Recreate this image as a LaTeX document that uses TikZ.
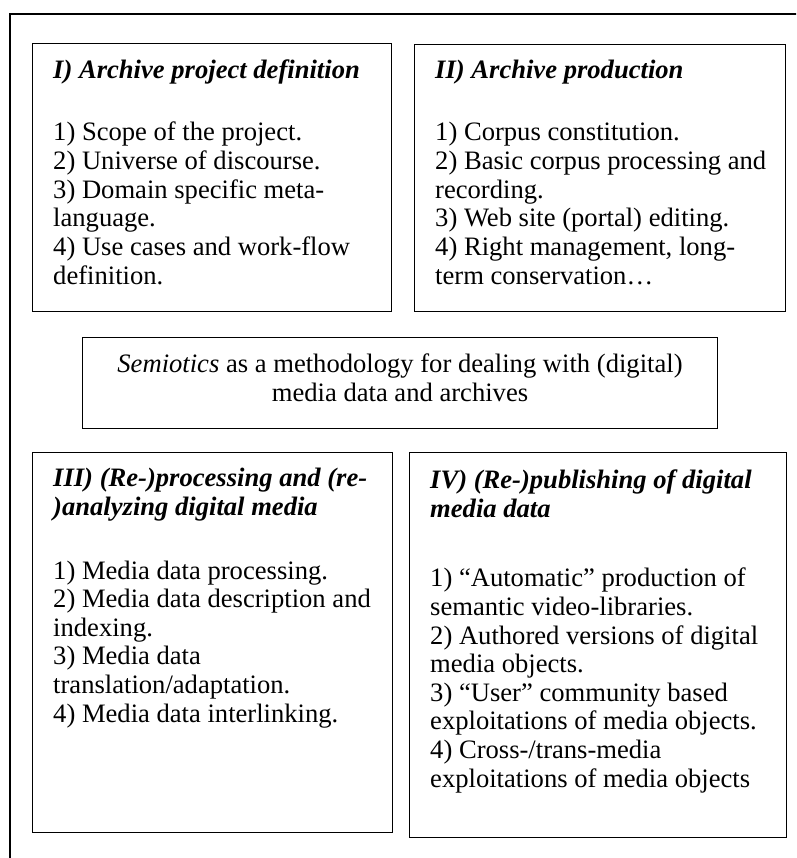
\documentclass[tikz,border=0pt]{standalone}
\usepackage{fontspec}
\setmainfont{Liberation Serif}
\begin{document}
\begin{tikzpicture}[x=1pt,y=-1pt,
  frame/.style={draw=black,line width=1.3pt},
  panel/.style={draw=black,line width=1.3pt,anchor=north west,inner sep=0pt},
  txt/.style={anchor=base west,inner sep=0pt,align=left,font=\fontsize{26.6}{28.6}\selectfont},
  ttl/.style={txt,font=\fontsize{26.6}{28.6}\selectfont\bfseries\itshape}]
\useasboundingbox (0,0) rectangle (796,858);
% outer frame (open to the right and bottom)
\coordinate (fb) at (10,870);
\coordinate (fc) at (10,14);
\coordinate (fr) at (810,14);
\begin{scope}
\clip (0,0) rectangle (796,858);
\draw[frame] (fb) -- (fc) -- (fr);
\end{scope}
% boxes
\node[panel,minimum width=359pt,minimum height=268pt] (b1) at (32,43) {};
\node[panel,minimum width=371pt,minimum height=267pt] (b2) at (414,44) {};
\node[panel,minimum width=635pt,minimum height=91pt] (bs) at (82,337) {};
\node[panel,minimum width=360pt,minimum height=380pt] (b3) at (32,452) {};
\node[panel,minimum width=377pt,minimum height=385pt] (b4) at (409,452) {};
% texts (anchor = baseline of the last line)
\node[ttl] (t1) at (53,79) {I) Archive project definition};
\node[txt] (p1) at (53,284) {1) Scope of the project.\\2) Universe of discourse.\\3) Domain specific meta-\\language.\\4) Use cases and work-flow\\definition.};
\node[ttl] (t2) at (435,79) {II) Archive production};
\node[txt] (p2) at (435,284) {1) Corpus constitution.\\2) Basic corpus processing and\\recording.\\3) Web site (portal) editing.\\4) Right management, long-\\term conservation…};
\node[txt,anchor=base,align=center] (ts) at (400,401) {\textit{Semiotics} as a methodology for dealing with (digital)\\media data and archives};
\node[ttl] (t3) at (53,515) {III) (Re-)processing and (re-\\)analyzing digital media};
\node[txt] (p3) at (53,722) {1) Media data processing.\\2) Media data description and\\indexing.\\3) Media data\\translation/adaptation.\\4) Media data interlinking.};
\node[ttl] (t4) at (430,517) {IV) (Re-)publishing of digital\\media data};
\node[txt] (p4) at (430,787) {1) “Automatic” production of\\semantic video-libraries.\\2) Authored versions of digital\\media objects.\\3) “User” community based\\exploitations of media objects.\\4) Cross-/trans-media\\exploitations of media objects};
\end{tikzpicture}
\end{document}
